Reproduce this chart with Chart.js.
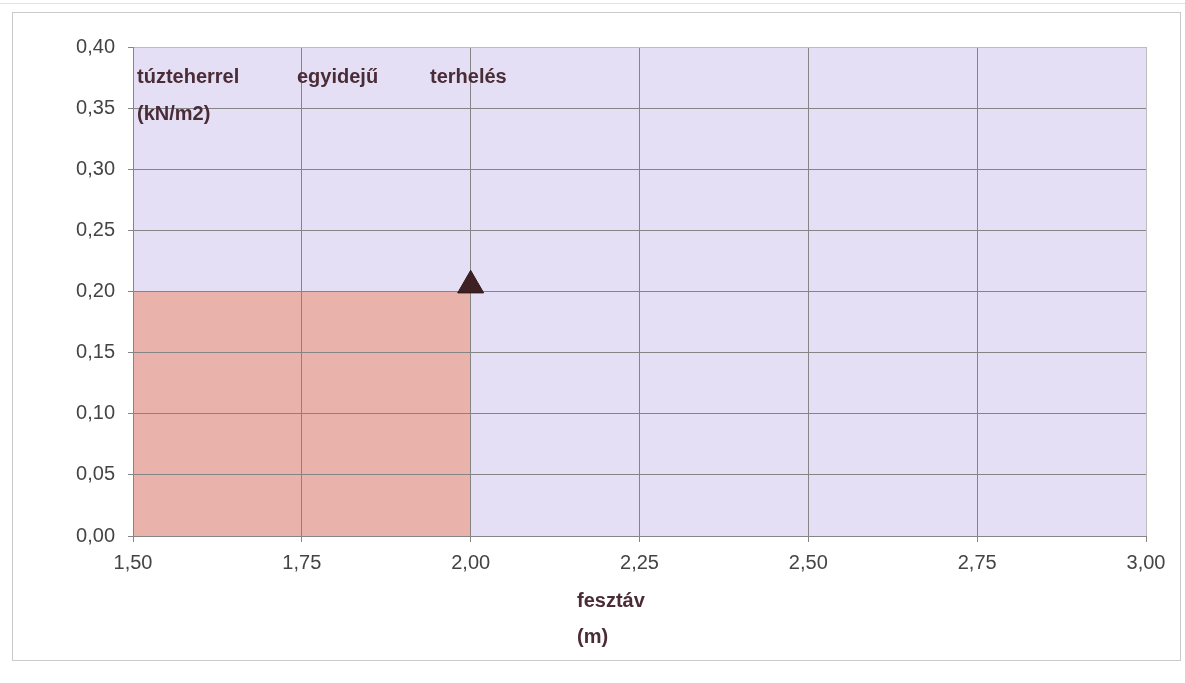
<!DOCTYPE html>
<html>
<head>
<meta charset="utf-8">
<script src="https://cdn.jsdelivr.net/npm/chart.js@4.4.0/dist/chart.umd.min.js"></script>
<style>
    html, body { margin: 0; padding: 0; background: #fff; }
    #wrap { position: relative; width: 1185px; height: 683px; overflow: hidden; }
    #topLine { position: absolute; left: 0; top: 3px; width: 1185px; border-top: 1px solid #e4e4e4; }
    #frame { position: absolute; left: 12px; top: 12px; width: 1167px; height: 647px; border: 1px solid #cacaca; }
    #plotBg { position: absolute; background: #e5dff5; }
    #chart { position: absolute; left: 0; top: 0; }
</style>
</head>
<body>
<div id="wrap">
    <div id="topLine"></div>
    <div id="frame"></div>
    <div id="plotBg"></div>
    <canvas id="chart" width="1185" height="683"></canvas>
</div>
<script>
const xTickLabels = ['1,50', '1,75', '2,00', '2,25', '2,50', '2,75', '3,00'];
const yTickLabels = ['0,00', '0,05', '0,10', '0,15', '0,20', '0,25', '0,30', '0,35', '0,40'];

// shaded load area (span in m, load in kN/m2)
const loadAreaSpan = [1.5, 2.0];
const loadAreaValue = [0.2, 0.2];

// marker
const loadPointSpan = [2.0];
const loadPointValue = [0.205];

const titleWords = ['túzteherrel', 'egyidejű', 'terhelés'];
const titleUnit = '(kN/m2)';
const xTitleLines = ['fesztáv', '(m)'];

const fontFamily = '"Liberation Sans", Arial, sans-serif';
const gridColor = '#858585';
const edgeColor = '#bdbdbd';

const plotBg = document.getElementById('plotBg');

const plotBackground = {
    id: 'plotBackground',
    afterLayout(chart) {
        const a = chart.chartArea;
        plotBg.style.left = a.left + 'px';
        plotBg.style.top = a.top + 'px';
        plotBg.style.width = (a.right - a.left) + 'px';
        plotBg.style.height = (a.bottom - a.top) + 'px';
    }
};

const chartTexts = {
    id: 'chartTexts',
    afterDraw(chart) {
        const ctx = chart.ctx;
        const a = chart.chartArea;
        ctx.save();
        ctx.font = 'bold 20px ' + fontFamily;
        ctx.fillStyle = '#4a2c37';
        ctx.textAlign = 'left';
        ctx.textBaseline = 'middle';
        const wordOffsets = [4, 164, 297];
        titleWords.forEach((w, i) => {
            ctx.fillText(w, a.left + wordOffsets[i], a.top + 30);
        });
        ctx.fillText(titleUnit, a.left + 4, a.top + 67);
        ctx.fillText(xTitleLines[0], a.left + 444, a.bottom + 65);
        ctx.fillText(xTitleLines[1], a.left + 444, a.bottom + 101);
        ctx.restore();
    }
};

const ctx = document.getElementById('chart').getContext('2d');
const chart = new Chart(ctx, {
    type: 'line',
    data: {
        datasets: [{
            data: loadAreaSpan.map((x, i) => ({ x: x, y: loadAreaValue[i] })),
            fill: 'origin',
            backgroundColor: '#e9b2ab',
            borderColor: 'rgba(0,0,0,0)',
            borderWidth: 0,
            pointRadius: 0
        }, {
            data: loadPointSpan.map((x, i) => ({ x: x, y: loadPointValue[i] })),
            showLine: false,
            pointStyle: 'triangle',
            pointRadius: 15,
            pointHoverRadius: 15,
            pointBackgroundColor: '#3e2024',
            pointBorderColor: '#2c1518',
            pointBorderWidth: 1
        }]
    },
    options: {
        responsive: false,
        animation: false,
        layout: {
            padding: { top: 47, right: 39, left: 0, bottom: 0 }
        },
        plugins: {
            legend: { display: false },
            tooltip: { enabled: false },
            filler: { drawTime: 'beforeDraw' }
        },
        scales: {
            x: {
                type: 'linear',
                min: 1.5,
                max: 3,
                ticks: {
                    stepSize: 0.25,
                    autoSkip: false,
                    maxRotation: 0,
                    padding: 9,
                    color: '#444444',
                    font: { family: fontFamily, size: 20 },
                    callback: (v, i) => xTickLabels[i]
                },
                grid: {
                    color: c => (c.tick && c.tick.value === 3) ? edgeColor : gridColor,
                    tickColor: gridColor,
                    tickLength: 6
                },
                border: { color: gridColor },
                afterFit: s => { s.height = 147; }
            },
            y: {
                min: 0,
                max: 0.4,
                ticks: {
                    stepSize: 0.05,
                    padding: 13,
                    color: '#444444',
                    font: { family: fontFamily, size: 20 },
                    callback: (v, i) => yTickLabels[i]
                },
                grid: {
                    color: c => (c.tick && Math.abs(c.tick.value - 0.4) < 1e-9) ? edgeColor : gridColor,
                    tickColor: gridColor,
                    tickLength: 5
                },
                border: { color: gridColor },
                afterFit: s => { s.width = 133; }
            }
        }
    },
    plugins: [plotBackground, chartTexts]
});
</script>
</body>
</html>
